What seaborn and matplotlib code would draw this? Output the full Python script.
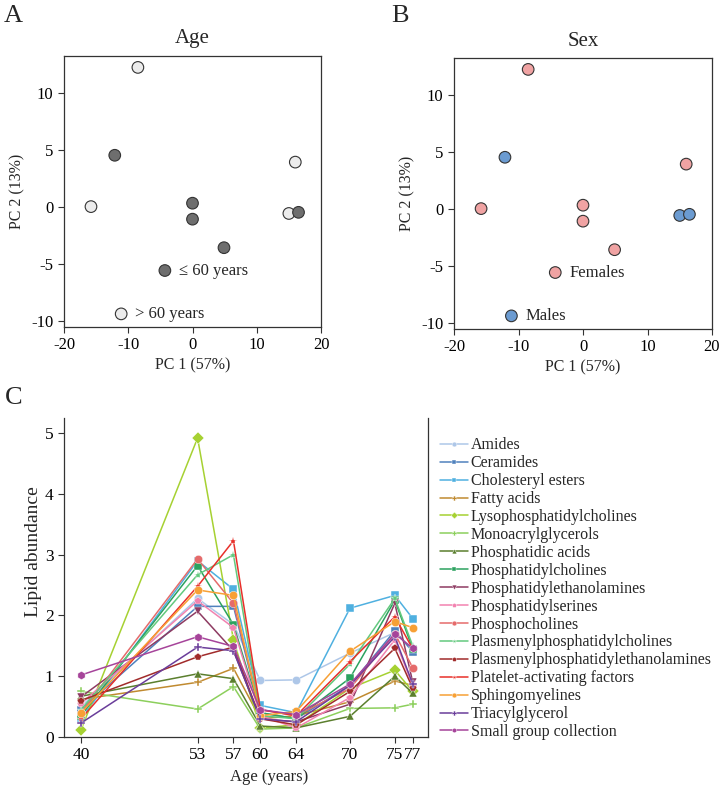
import numpy as np
import pandas as pd
import seaborn as sns
import matplotlib
matplotlib.use("Agg")
import matplotlib.pyplot as plt

# PCA scores (panels A and B)
pc1 = [-8.5, -12.1, -15.8, 0.0, 0.0, 4.9, 16.0, 15.0, 16.5, -4.3, -11.1]
pc2 = [12.2, 4.5, 0.0, 0.3, -1.1, -3.6, 3.9, -0.6, -0.5, -5.6, -9.4]
age_group = ['> 60 years', '≤ 60 years', '> 60 years', '≤ 60 years', '≤ 60 years', '≤ 60 years',
             '> 60 years', '> 60 years', '≤ 60 years', '≤ 60 years', '> 60 years']
sex = ['Females', 'Males', 'Females', 'Females', 'Females', 'Females',
       'Females', 'Males', 'Males', 'Females', 'Males']

# Lipid abundance by age (panel C)
ages = [40, 53, 57, 60, 64, 70, 75, 77]
lipid_classes = ['Amides', 'Ceramides', 'Cholesteryl esters', 'Fatty acids',
                 'Lysophosphatidylcholines', 'Monoacrylglycerols', 'Phosphatidic acids',
                 'Phosphatidylcholines', 'Phosphatidylethanolamines', 'Phosphatidylserines',
                 'Phosphocholines', 'Plasmenylphosphatidylcholines',
                 'Plasmenylphosphatidylethanolamines', 'Platelet-activating factors',
                 'Sphingomyelines', 'Triacylglycerol', 'Small group collection']
amides = [0.50, 2.28, 1.85, 0.93, 0.94, 1.38, 1.72, 1.45]
ceramides = [0.45, 2.15, 2.15, 0.40, 0.30, 0.85, 1.75, 1.40]
cholesteryl_esters = [0.30, 2.90, 2.43, 0.52, 0.40, 2.12, 2.33, 1.95]
fatty_acids = [0.62, 0.90, 1.13, 0.30, 0.35, 0.58, 0.92, 0.85]
lysopc = [0.12, 4.92, 1.60, 0.15, 0.20, 0.80, 1.10, 0.75]
monoacylglycerols = [0.75, 0.46, 0.83, 0.13, 0.15, 0.47, 0.48, 0.54]
phosphatidic_acids = [0.67, 1.04, 0.96, 0.18, 0.15, 0.34, 1.00, 0.72]
pc = [0.35, 2.82, 1.85, 0.40, 0.30, 0.97, 2.25, 1.45]
pe = [0.66, 2.07, 1.42, 0.30, 0.25, 0.54, 2.20, 0.90]
ps = [0.55, 2.24, 1.80, 0.35, 0.15, 0.65, 1.60, 0.85]
phosphocholines = [0.40, 2.93, 2.20, 0.45, 0.35, 0.80, 1.70, 1.14]
plasmenyl_pc = [0.45, 2.67, 3.00, 0.35, 0.30, 1.20, 2.28, 1.50]
plasmenyl_pe = [0.60, 1.32, 1.48, 0.30, 0.20, 0.75, 1.46, 0.80]
paf = [0.30, 2.48, 3.23, 0.45, 0.35, 1.24, 1.98, 1.45]
sphingomyelines = [0.40, 2.42, 2.33, 0.35, 0.42, 1.41, 1.90, 1.80]
triacylglycerol = [0.23, 1.48, 1.42, 0.30, 0.25, 0.85, 1.65, 0.87]
small_group = [1.02, 1.65, 1.49, 0.45, 0.37, 0.87, 1.70, 1.46]

series = [amides, ceramides, cholesteryl_esters, fatty_acids, lysopc, monoacylglycerols,
          phosphatidic_acids, pc, pe, ps, phosphocholines, plasmenyl_pc, plasmenyl_pe,
          paf, sphingomyelines, triacylglycerol, small_group]

colors = ['#aec7e8', '#4f81bd', '#4fb0e0', '#c08a30', '#a6d132', '#8ccf5c', '#5b7f2e',
          '#2ca25f', '#8e3b62', '#f283b0', '#e56b6b', '#63c97e', '#a12b2b', '#e8302a',
          '#f7a035', '#6a3d9a', '#a6449a']
markers = ['o', 's', 's', 'P', 'D', 'P', '^', 's', 'v', 'p', 'o', '*', 'p', '*', 'o', 'P', 'h']

pca = pd.DataFrame({'pc1': pc1, 'pc2': pc2, 'age': age_group, 'sex': sex})
lipids = pd.DataFrame({
    'age': np.tile(ages, len(lipid_classes)),
    'lipid': np.repeat(lipid_classes, len(ages)),
    'abundance': np.concatenate(series),
})

sns.set_style("ticks")
plt.rcParams['font.family'] = ['Liberation Serif', 'DejaVu Serif']
plt.rcParams['axes.unicode_minus'] = False
plt.rcParams['axes.edgecolor'] = '#333333'
plt.rcParams['xtick.color'] = '#333333'
plt.rcParams['ytick.color'] = '#333333'
plt.rcParams['xtick.labelcolor'] = 'black'
plt.rcParams['ytick.labelcolor'] = 'black'

fig = plt.figure(figsize=(7.21, 7.87), dpi=100)
W, H = 721, 787


def ax_px(left, top, right, bottom):
    return fig.add_axes([left / W, 1 - bottom / H, (right - left) / W, (bottom - top) / H])


def pca_panel(ax, hue, palette, labels, title):
    sns.scatterplot(data=pca, x='pc1', y='pc2', hue=hue, palette=palette, s=70,
                    edgecolor='#333333', linewidth=0.8, legend=False, ax=ax, zorder=3)
    ax.set_xlim(-20, 20)
    ax.set_ylim(-10.55, 13.2)
    ax.set_xticks([-20, -10, 0, 10, 20])
    ax.set_yticks([-10, -5, 0, 5, 10])
    ax.tick_params(labelsize=12, length=4, width=0.8)
    ax.set_xlabel('PC 1 (57%)', fontsize=11.5, labelpad=3)
    ax.set_ylabel('PC 2 (13%)', fontsize=11.5)
    ax.set_title(title, fontsize=15, pad=9)
    for sp in ax.spines.values():
        sp.set_linewidth(0.9)
    # label the two key samples
    for i, txt in labels:
        ax.text(pc1[i] + 2.2, pc2[i], txt, fontsize=12, va='center')


ax_a = ax_px(64, 56, 321, 327)
pca_panel(ax_a, 'age', {'≤ 60 years': '#6e6e6e', '> 60 years': '#ececec'},
          [(9, '≤ 60 years'), (10, '> 60 years')], 'Age')

ax_b = ax_px(454, 58, 712, 329)
pca_panel(ax_b, 'sex', {'Females': '#f0a3a3', 'Males': '#6b9bd1'},
          [(9, 'Females'), (10, 'Males')], 'Sex')

ax_c = ax_px(64, 418, 428, 737)
sns.lineplot(data=lipids, x='age', y='abundance', hue='lipid', style='lipid',
             hue_order=lipid_classes, style_order=lipid_classes,
             palette=dict(zip(lipid_classes, colors)),
             markers=dict(zip(lipid_classes, markers)), dashes=False,
             markersize=6, markeredgewidth=0.3, linewidth=1.1, ax=ax_c)
ax_c.set_xlim(38.1, 78.7)
ax_c.set_ylim(0, 5.25)
ax_c.set_xticks(ages)
ax_c.set_yticks([0, 1, 2, 3, 4, 5])
ax_c.tick_params(labelsize=12.5, length=4, width=0.8)
ax_c.set_xlabel('Age (years)', fontsize=12)
ax_c.xaxis.label.set_x((269 - 64) / 364)
ax_c.set_ylabel('Lipid abundance', fontsize=14, labelpad=2)
ax_c.yaxis.label.set_y((737 - 552) / 319)
ax_c.spines['top'].set_visible(False)
for sp in ['left', 'bottom', 'right']:
    ax_c.spines[sp].set_linewidth(0.9)

handles, labels = ax_c.get_legend_handles_labels()
for h in handles:
    h.set_markersize(3.5)
ax_c.legend(handles, labels, loc='upper left', bbox_to_anchor=(434 / W, 1 - 431 / H),
            bbox_transform=fig.transFigure, frameon=False, fontsize=11.5,
            handlelength=1.7, handletextpad=0.2, labelspacing=0.12, borderaxespad=0)

fig.text(4 / W, 1 - 16 / H, 'A', fontsize=19, va='center', ha='left')
fig.text(391 / W, 1 - 16 / H, 'B', fontsize=19, va='center', ha='left')
fig.text(5 / W, 1 - 398 / H, 'C', fontsize=19, va='center', ha='left')

fig.savefig('out.png', dpi=100)
